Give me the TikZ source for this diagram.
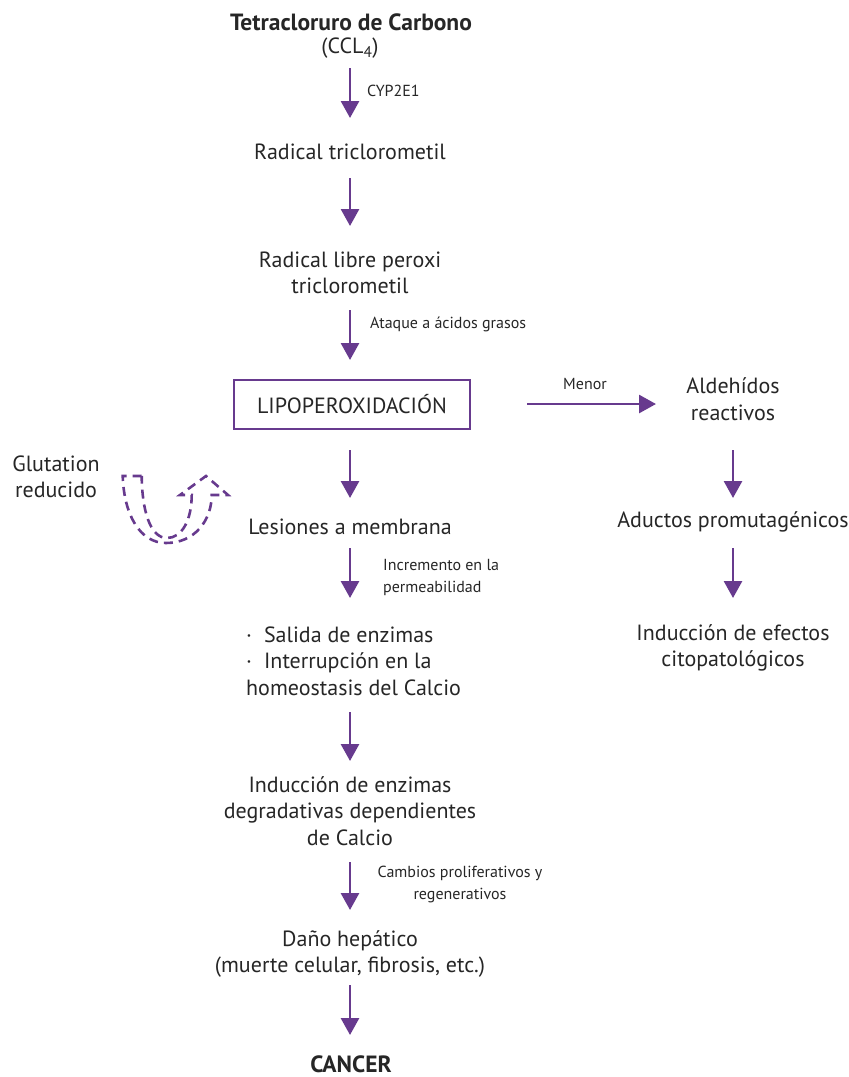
\documentclass[tikz,border=0pt]{standalone}
\usepackage{fontspec}
\setmainfont{PT Sans}
\usetikzlibrary{arrows.meta}
\definecolor{vio}{HTML}{673A8E}
\tikzset{
  flow/.style={draw=vio, line width=2.8pt, -{Triangle[width=18pt,length=17pt]}},
  main/.style={font=\fontsize{22}{26.5}\selectfont, align=center, text=black!85, inner sep=0pt},
  lab/.style={font=\fontsize{16}{22}\selectfont, align=left, text=black!85, anchor=west, inner sep=0pt},
  lipbox/.style={draw=vio, line width=2.2pt, minimum width=236pt, minimum height=49pt, font=\fontsize{22}{24}\selectfont, text=black!85},
}
\begin{document}
\begin{tikzpicture}[x=1pt,y=-1pt]
\useasboundingbox (0,0) rectangle (849,1077);
% left column
\node[main, font=\fontsize{23.5}{26.5}\selectfont\bfseries] (t1) at (351,22) {Tetracloruro de Carbono};
\node[main] (t2) at (350,48) {(CCL\textsubscript{4})};
\node[main] (rt) at (350,152) {Radical triclorometil};
\node[main] (rp) at (350,273) {Radical libre peroxi\\triclorometil};
\node[lipbox] (lip) at (352,404.5) {LIPOPEROXIDACIÓN};
\node[main] (les) at (350,527) {Lesiones a membrana};
\node[main, align=left, anchor=west] (sal) at (246,661) {·\hspace{12pt}Salida de enzimas\\·\hspace{12pt}Interrupción en la\\homeostasis del Calcio};
\node[main] (ind) at (350,811) {Inducción de enzimas\\degradativas dependientes\\de Calcio};
\node[main] (dan) at (350,954) {Daño hepático\\(muerte celular, fibrosis, etc.)};
\node[main, font=\fontsize{23.5}{26.5}\selectfont\bfseries] (can) at (351,1064) {CANCER};
% right column
\node[main] (ald) at (733,399) {Aldehídos\\reactivos};
\node[main] (adu) at (733,522) {Aductos promutagénicos};
\node[main] (efe) at (733,648) {Inducción de efectos\\citopatológicos};
% glutation
\node[main] (glu) at (56,477) {Glutation\\reducido};
% arrow coordinates
\coordinate (a1s) at (350,68); \coordinate (a1e) at (350,118);
\coordinate (a2s) at (350,178); \coordinate (a2e) at (350,226);
\coordinate (a3s) at (350,310); \coordinate (a3e) at (350,360);
\coordinate (a4s) at (350,450); \coordinate (a4e) at (350,498);
\coordinate (a5s) at (350,548); \coordinate (a5e) at (350,598);
\coordinate (a6s) at (350,712); \coordinate (a6e) at (350,761);
\coordinate (a7s) at (350,862); \coordinate (a7e) at (350,910);
\coordinate (a8s) at (350,985); \coordinate (a8e) at (350,1035);
\coordinate (h1s) at (527,404); \coordinate (h1e) at (656,404);
\coordinate (b1s) at (733,450); \coordinate (b1e) at (733,498);
\coordinate (b2s) at (733,548); \coordinate (b2e) at (733,598);
\draw[flow] (a1s) -- (a1e);
\draw[flow] (a2s) -- (a2e);
\draw[flow] (a3s) -- (a3e);
\draw[flow] (a4s) -- (a4e);
\draw[flow] (a5s) -- (a5e);
\draw[flow] (a6s) -- (a6e);
\draw[flow] (a7s) -- (a7e);
\draw[flow] (a8s) -- (a8e);
\draw[flow] (h1s) -- (h1e);
\draw[flow] (b1s) -- (b1e);
\draw[flow] (b2s) -- (b2e);
% labels
\node[lab] (l1) at (367,91) {CYP2E1};
\node[lab] (l2) at (370,324) {Ataque a ácidos grasos};
\node[lab, anchor=center] (l3) at (585,384) {Menor};
\node[lab] (l4) at (383,577) {Incremento en la\\permeabilidad};
\node[lab, align=center, anchor=center] (l5) at (460,884) {Cambios proliferativos y\\regenerativos};
% dashed hollow curved arrow
\draw[vio, line width=2.6pt, dash pattern=on 9pt off 6pt, line join=miter]
  (141.7,476) -- (122.7,476)
  .. controls (124,515) and (140,543) .. (166,543)
  .. controls (195,543) and (211.7,520) .. (211.7,495)
  -- (228,495) -- (206,476) -- (180,495) -- (191.7,495)
  .. controls (191.7,520) and (182,538) .. (167,538)
  .. controls (150,538) and (142,510) .. (141.7,476);
\end{tikzpicture}
\end{document}
